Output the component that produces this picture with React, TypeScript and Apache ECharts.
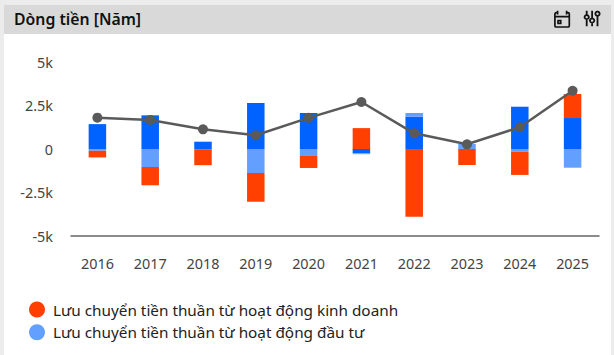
import React, { useEffect, useRef } from "react";
import * as echarts from "echarts";

const years = ["2016", "2017", "2018", "2019", "2020", "2021", "2022", "2023", "2024", "2025"];
const financing = [1430, 1935, 420, 2640, 2070, -250, 1860, 0, 2430, 1780];
const investing = [-100, -1035, -10, -1380, -400, -50, 210, 290, -150, -1075];
const operating = [-385, -1050, -920, -1650, -690, 1200, -3890, -920, -1340, 1380];
const netFlow = [1800, 1670, 1130, 790, 1790, 2700, 900, 270, 1250, 3350];

const titleText = "Dòng tiền [Năm]";
const operatingName = "Lưu chuyển tiền thuần từ hoạt động kinh doanh";
const investingName = "Lưu chuyển tiền thuần từ hoạt động đầu tư";
const financingName = "Lưu chuyển tiền thuần từ hoạt động tài chính";
const netName = "Lưu chuyển tiền thuần";

const FONT = "'Noto Sans', sans-serif";

echarts.graphic.registerShape(
  "calIcon",
  echarts.graphic.extendPath(
    "M4 2v2H2.5A1.5 1.5 0 0 0 1 5.5v13A1.5 1.5 0 0 0 2.5 20h13a1.5 1.5 0 0 0 1.5-1.5v-13A1.5 1.5 0 0 0 15.5 4H14V2M4 4v2M14 4v2M1 8.5h16M4.5 13h3v3h-3z",
    {}
  )
);
echarts.graphic.registerShape(
  "sliderIcon",
  echarts.graphic.extendPath(
    "M3 1v5M3 11v8M9 1v9M9 15v4M15 1v1M15 7v12M3 6a2.4 2.4 0 1 0 .01 0M9 10a2.4 2.4 0 1 0 .01 0M15 2a2.4 2.4 0 1 0 .01 0",
    {}
  )
);

export default function App() {
  const ref = useRef<HTMLDivElement>(null);
  useEffect(() => {
    const chart = echarts.init(ref.current!, null, { renderer: "svg" });
    const bar = (name: string, data: number[], color: string) => ({
      name,
      type: "bar" as const,
      stack: "flow",
      data,
      barWidth: 17.5,
      itemStyle: { color },
    });
    chart.setOption({
      animation: false,
      backgroundColor: "#ececec",
      grid: { left: 71, right: 15, top: 62, height: 174 },
      graphic: [
        { type: "rect", z: -10, shape: { x: 4, y: 5, width: 607, height: 350 }, style: { fill: "#ffffff" } },
        { type: "rect", z: -9, shape: { x: 4, y: 5, width: 607, height: 29 }, style: { fill: "#d9d9d9" } },
        {
          type: "text",
          x: 14,
          y: 19,
          style: {
            text: titleText,
            font: `600 15.8px ${FONT}`,
            fill: "#111111",
            verticalAlign: "middle",
          },
        },
        {
          type: "calIcon",
          x: 554,
          y: 9,
          scaleX: 0.9,
          scaleY: 0.9,
          style: { fill: "none", stroke: "#111111", lineWidth: 1.9 },
        },
        {
          type: "sliderIcon",
          x: 584,
          y: 10,
          scaleX: 0.9,
          scaleY: 0.85,
          style: { fill: "none", stroke: "#111111", lineWidth: 2 },
        },
      ],
      legend: {
        orient: "vertical",
        left: 24,
        top: 296.5,
        itemWidth: 16,
        itemHeight: 16,
        itemGap: 6.8,
        icon: "circle",
        selectedMode: false,
        data: [operatingName, investingName],
        textStyle: { fontFamily: FONT, fontSize: 15.3, color: "#222222", padding: [0, 0, 0, 3] },
      },
      xAxis: {
        type: "category",
        data: years,
        axisTick: { show: false },
        axisLine: { onZero: false, lineStyle: { color: "#666666", width: 1.5 } },
        axisLabel: { fontFamily: FONT, fontSize: 14.4, color: "#444444", margin: 20 },
      },
      yAxis: {
        type: "value",
        min: -5000,
        max: 5000,
        interval: 2500,
        splitLine: { show: false },
        axisLine: { show: false },
        axisTick: { show: false },
        axisLabel: {
          fontFamily: FONT,
          fontSize: 14.4,
          color: "#444444",
          margin: 18,
          verticalAlignMinLabel: "middle",
          verticalAlignMaxLabel: "middle",
          formatter: (v: number) => (v === 0 ? "0" : `${v / 1000}k`),
        },
      },
      series: [
        bar(financingName, financing, "#0062ff"),
        bar(investingName, investing, "#639fff"),
        bar(operatingName, operating, "#ff4000"),
        {
          name: netName,
          type: "line",
          data: netFlow,
          symbol: "circle",
          symbolSize: 10,
          z: 5,
          lineStyle: { color: "#5a5a5a", width: 2.5 },
          itemStyle: { color: "#5a5a5a" },
        },
      ],
    });
    return () => chart.dispose();
  }, []);
  return <div ref={ref} style={{ position: "fixed", left: 0, top: 0, width: 614, height: 355 }} />;
}
